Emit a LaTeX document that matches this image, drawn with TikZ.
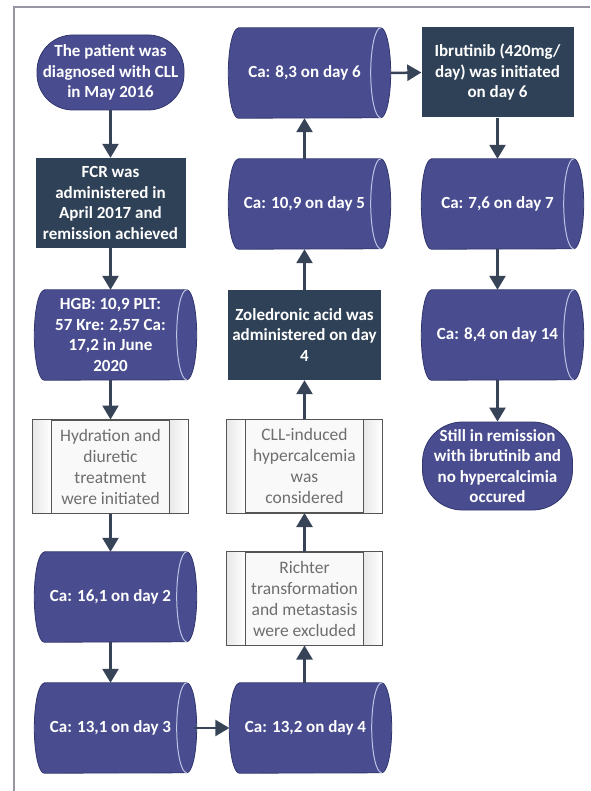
\documentclass[tikz,border=0pt]{standalone}
\usepackage{fontspec}
\setmainfont{Carlito}
\usetikzlibrary{arrows.meta,calc,backgrounds}
\definecolor{cylfill}{RGB}{73,77,143}
\definecolor{cylborder}{RGB}{50,54,110}
\definecolor{cylinner}{RGB}{190,195,228}
\definecolor{darkbox}{RGB}{47,65,86}
\definecolor{arrowcol}{RGB}{55,68,88}
\definecolor{procfill}{RGB}{249,249,249}
\definecolor{procborder}{RGB}{85,85,85}
\definecolor{proctext}{RGB}{110,110,110}
\definecolor{framecol}{RGB}{150,150,162}
\tikzset{
  base/.style={inner sep=0pt, align=center, font=\fontsize{17.5}{21}\selectfont},
  wtext/.style={base, text=white, font=\bfseries\fontsize{17}{20.5}\selectfont},
  term/.style={wtext, fill=cylfill, draw=cylborder, line width=0.8pt},
  dark/.style={wtext, fill=darkbox, minimum width=152pt, minimum height=90pt},
  cylbox/.style={wtext, minimum width=152pt, minimum height=90pt},
  proc/.style={base, text=proctext, fill=procfill, draw=procborder, line width=1pt, minimum width=155pt, minimum height=93pt},
  arr/.style={draw=arrowcol, line width=2.5pt, -{Triangle[length=14pt,width=16pt]}}
}
\newcommand{\cylshape}[1]{%
  \filldraw[fill=cylfill, draw=cylborder, line width=0.8pt]
    ($(#1.north west)+(10,0)$) -- (#1.north east)
    arc[start angle=90, end angle=-90, x radius=10pt, y radius=45pt]
    -- ($(#1.south west)+(10,0)$)
    arc[start angle=270, end angle=90, x radius=10pt, y radius=45pt] -- cycle;
  \draw[cylinner, line width=1pt] (#1.north east)
    arc[start angle=90, end angle=270, x radius=10pt, y radius=45pt];
}
\newcommand{\procdeco}[1]{%
  \shade[left color=gray!18, right color=white]
    ($(#1.north west)+(0.5,-0.5)$) rectangle ($(#1.south west)+(19,0.5)$);
  \shade[left color=gray!18, right color=white]
    ($(#1.north east)+(-19,-0.5)$) rectangle ($(#1.south east)+(-0.5,0.5)$);
  \draw[procborder, line width=1pt] (#1.north west) rectangle (#1.south east);
  \draw[procborder, line width=1pt] ($(#1.north west)+(19,0)$) -- ($(#1.south west)+(19,0)$);
  \draw[procborder, line width=1pt] ($(#1.north east)+(-19,0)$) -- ($(#1.south east)+(-19,0)$);
}
\begin{document}
\begin{tikzpicture}[x=1pt, y=1pt]
\useasboundingbox (0,0) rectangle (590,-791);
% column 1
\node[term, rounded corners=36pt, minimum width=147pt, minimum height=75pt] (start) at (110.5,-72.5) {The patient was\\diagnosed with CLL\\in May 2016};
\node[dark, minimum width=150pt] (fcr) at (110.5,-203) {FCR was\\administered in\\April 2017 and\\remission achieved};
\node[cylbox] (hgb) at (110.5,-335) {HGB: 10,9 PLT:\\57 Kre: 2,57 Ca:\\17,2 in June\\2020};
\node[proc] (hyd) at (110.5,-466.5) {Hydration and\\diuretic\\treatment\\were initiated};
\node[cylbox] (ca16) at (110.5,-597) {Ca: 16,1 on day 2};
\node[cylbox] (ca13) at (110.5,-728) {Ca: 13,1 on day 3};
% column 2
\node[cylbox] (ca83) at (304.5,-73) {Ca: 8,3 on day 6};
\node[cylbox] (ca109) at (304.5,-204) {Ca: 10,9 on day 5};
\node[dark, minimum width=153pt] (zol) at (304.5,-335) {Zoledronic acid was\\administered on day\\4};
\node[proc] (cll) at (304.5,-466) {CLL-induced\\hypercalcemia\\was\\considered};
\node[proc] (richter) at (304.5,-598.5) {Richter\\transformation\\and metastasis\\were excluded};
\node[cylbox] (ca132) at (305.5,-728) {Ca: 13,2 on day 4};
% column 3
\node[dark] (ibr) at (497.5,-72.5) {Ibrutinib (420mg/\\day) was initiated\\on day 6};
\node[cylbox] (ca76) at (497.5,-204) {Ca: 7,6 on day 7};
\node[cylbox] (ca84) at (497.5,-335) {Ca: 8,4 on day 14};
\node[term, rounded corners=40pt, minimum width=150pt, minimum height=88pt] (still) at (497.5,-466) {Still in remission\\with ibrutinib and\\no hypercalcimia\\occured};
% decorations
\begin{pgfonlayer}{background}
  \fill[white] (0,0) rectangle (590,-791);
  \cylshape{hgb}\cylshape{ca16}\cylshape{ca13}
  \cylshape{ca83}\cylshape{ca109}\cylshape{ca132}
  \cylshape{ca76}\cylshape{ca84}
\end{pgfonlayer}
\procdeco{hyd}\procdeco{cll}\procdeco{richter}
% frame
\draw[framecol, line width=1.5pt] (14,-791) -- (14,-7) -- (590,-7);
% connectors
\draw[arr] (start.south) -- (fcr.north);
\draw[arr] (fcr.south) -- (hgb.north);
\draw[arr] (hgb.south) -- (hyd.north);
\draw[arr] (hyd.south) -- (ca16.north);
\draw[arr] (ca16.south) -- (ca13.north);
\draw[arr] ($(ca13.east)+(7,0)$) -- (ca132.west);
\draw[arr] (ca132.north -| richter.south) -- (richter.south);
\draw[arr] (richter.north) -- (cll.south);
\draw[arr] (cll.north) -- (zol.south);
\draw[arr] (zol.north) -- (ca109.south);
\draw[arr] (ca109.north) -- (ca83.south);
\draw[arr] ($(ca83.east)+(10,0)$) -- (ibr.west);
\draw[arr] (ibr.south) -- (ca76.north);
\draw[arr] (ca76.south) -- (ca84.north);
\draw[arr] (ca84.south) -- (still.north);
\end{tikzpicture}
\end{document}
